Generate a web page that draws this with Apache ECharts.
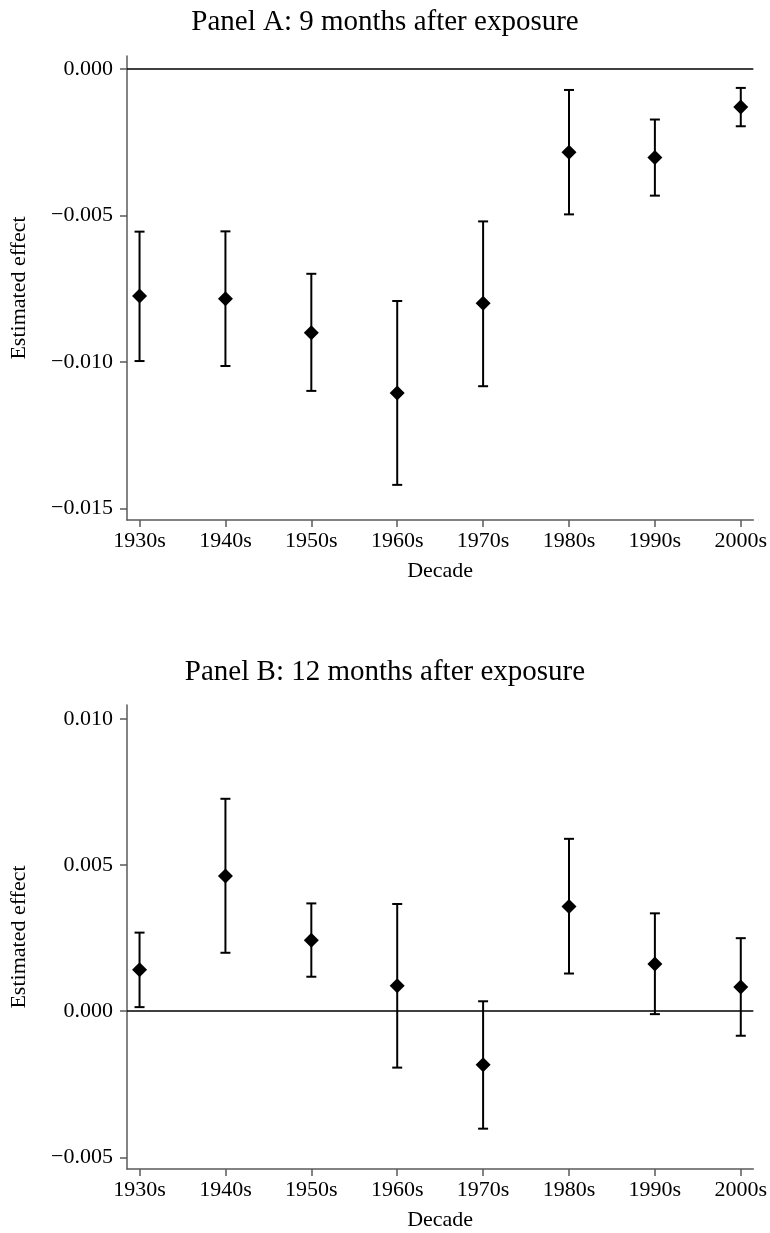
<!DOCTYPE html>
<html>
<head>
<meta charset="utf-8">
<script src="https://cdn.jsdelivr.net/npm/echarts@6/dist/echarts.min.js"></script>
<style>
  html, body { margin: 0; padding: 0; background: #fff; }
  #chart { width: 770px; height: 1233px; }
</style>
</head>
<body>
<div id="chart"></div>
<script>
// categories
const decades = ['1930s', '1940s', '1950s', '1960s', '1970s', '1980s', '1990s', '2000s']

// Panel A: 9 months after exposure
const estA = [-0.00775, -0.00784, -0.0090, -0.01106, -0.0080, -0.00284, -0.00302, -0.00129]
const loA = [-0.00997, -0.01014, -0.01099, -0.0142, -0.01083, -0.00496, -0.00432, -0.00195]
const hiA = [-0.00555, -0.00554, -0.00699, -0.00792, -0.0052, -0.00071, -0.00172, -0.00064]

// Panel B: 12 months after exposure
const estB = [0.00142, 0.00463, 0.00243, 0.00087, -0.00183, 0.00358, 0.00162, 0.00083]
const loB = [0.00014, 0.0020, 0.00118, -0.00193, -0.00402, 0.00129, -0.0001, -0.00084]
const hiB = [0.00269, 0.00727, 0.00369, 0.00367, 0.00034, 0.0059, 0.00335, 0.0025]

// tick labels
const ticksA = [-0.015, -0.010, -0.005, 0]
const ticksB = [-0.005, 0, 0.005, 0.010]

const serif = 'Liberation Serif'
const axisGray = '#5a5a5a'

// y label like Stata: 3 decimals and a real minus sign
function fmtY (v) {
  return v.toFixed(3).replace('-', '\u2212')
}

function xAxisFor (gridIndex) {
  return {
    type: 'value',
    gridIndex: gridIndex,
    min: -0.146,
    max: 7.146,
    name: 'Decade',
    nameLocation: 'middle',
    nameGap: 40,
    nameTextStyle: { fontFamily: serif, fontSize: 22, color: '#000' },
    axisLine: { onZero: false, lineStyle: { color: axisGray, width: 1.5 } },
    axisTick: { length: 7, customValues: decades.map((d, i) => i), lineStyle: { color: axisGray, width: 1.5 } },
    axisLabel: {
      customValues: decades.map((d, i) => i),
      formatter: v => decades[Math.round(v)],
      margin: 10,
      fontFamily: serif,
      fontSize: 22,
      color: '#000'
    },
    splitLine: { show: false }
  }
}

function yAxisFor (gridIndex, min, max, ticks) {
  return {
    type: 'value',
    gridIndex: gridIndex,
    min: min,
    max: max,
    name: 'Estimated effect',
    nameLocation: 'middle',
    nameGap: 97,
    nameTextStyle: { fontFamily: serif, fontSize: 22, color: '#000' },
    axisLine: { show: true, onZero: false, lineStyle: { color: axisGray, width: 1.5 } },
    axisTick: { show: true, length: 7, customValues: ticks, lineStyle: { color: axisGray, width: 1.5 } },
    axisLabel: {
      customValues: ticks,
      formatter: fmtY,
      margin: 14,
      fontFamily: serif,
      fontSize: 22,
      color: '#000'
    },
    splitLine: { show: false }
  }
}

// error bar: vertical line with caps
function renderBar (params, api) {
  const x = api.value(0)
  const top = api.coord([x, api.value(2)])
  const bot = api.coord([x, api.value(1)])
  const cap = 5
  const style = { stroke: '#000', lineWidth: 2 }
  return {
    type: 'group',
    children: [
      { type: 'line', shape: { x1: top[0], y1: top[1], x2: bot[0], y2: bot[1] }, style: style },
      { type: 'line', shape: { x1: top[0] - cap, y1: top[1], x2: top[0] + cap, y2: top[1] }, style: style },
      { type: 'line', shape: { x1: bot[0] - cap, y1: bot[1], x2: bot[0] + cap, y2: bot[1] }, style: style }
    ]
  }
}

function panelSeries (idx, est, lo, hi) {
  return [
    {
      type: 'custom',
      xAxisIndex: idx,
      yAxisIndex: idx,
      renderItem: renderBar,
      encode: { x: 0, y: [1, 2] },
      data: decades.map((d, i) => [i, lo[i], hi[i]]),
      z: 2
    },
    {
      type: 'scatter',
      xAxisIndex: idx,
      yAxisIndex: idx,
      symbol: 'diamond',
      symbolSize: 15,
      itemStyle: { color: '#000', opacity: 1 },
      data: decades.map((d, i) => [i, est[i]]),
      markLine: {
        silent: true,
        symbol: 'none',
        label: { show: false },
        lineStyle: { color: '#000', width: 1.5, type: 'solid' },
        data: [{ yAxis: 0 }]
      },
      z: 3
    }
  ]
}

const chart = echarts.init(document.getElementById('chart'))
chart.setOption({
  backgroundColor: '#fff',
  animation: false,
  title: [
    {
      text: 'Panel A: 9 months after exposure',
      left: 'center',
      top: 3,
      textStyle: { fontFamily: serif, fontSize: 29, fontWeight: 'normal', color: '#000' }
    },
    {
      text: 'Panel B: 12 months after exposure',
      left: 'center',
      top: 653,
      textStyle: { fontFamily: serif, fontSize: 29, fontWeight: 'normal', color: '#000' }
    }
  ],
  grid: [
    { left: 124, right: 14, top: 56, height: 464 },
    { left: 124, right: 14, top: 705, height: 464 }
  ],
  xAxis: [xAxisFor(0), xAxisFor(1)],
  yAxis: [
    yAxisFor(0, -0.0154, 0.00045, ticksA),
    yAxisFor(1, -0.0054, 0.01048, ticksB)
  ],
  series: panelSeries(0, estA, loA, hiA).concat(panelSeries(1, estB, loB, hiB))
})
</script>
</body>
</html>
